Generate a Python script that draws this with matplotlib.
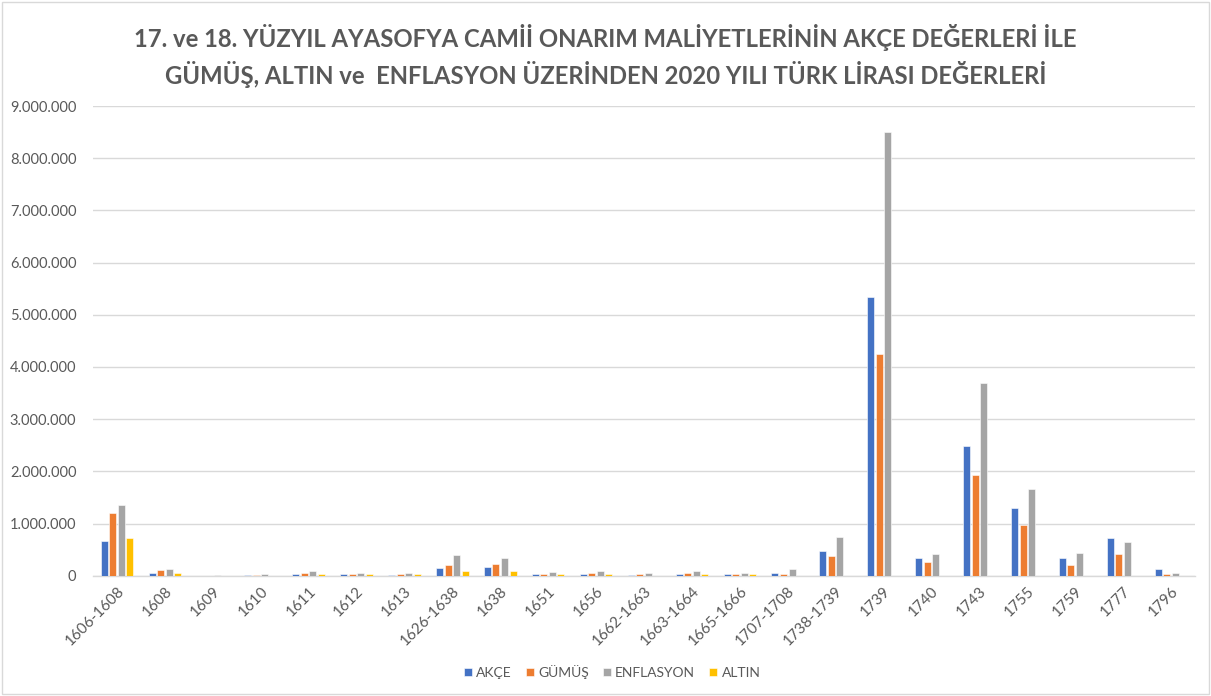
import matplotlib
matplotlib.use("Agg")
import matplotlib.pyplot as plt
import numpy as np
from matplotlib.ticker import FuncFormatter
from matplotlib.patches import Rectangle

categories = ["1606-1608", "1608", "1609", "1610", "1611", "1612", "1613", "1626-1638",
              "1638", "1651", "1656", "1662-1663", "1663-1664", "1665-1666", "1707-1708",
              "1738-1739", "1739", "1740", "1743", "1755", "1759", "1777", "1796"]
akce = [656000, 50000, 3000, 5000, 30000, 30000, 10000, 146000,
        165000, 30000, 30000, 5000, 40000, 30000, 50000,
        470000, 5340000, 340000, 2480000, 1290000, 340000, 730000, 120000]
gumus = [1210000, 108000, 3000, 5000, 50000, 40000, 30000, 197000,
         230000, 40000, 50000, 30000, 50000, 40000, 40000,
         370000, 4250000, 260000, 1930000, 975000, 200000, 410000, 30000]
enflasyon = [1350000, 120000, 5000, 30000, 90000, 50000, 50000, 390000,
             340000, 70000, 90000, 45000, 90000, 50000, 130000,
             737000, 8510000, 420000, 3700000, 1660000, 430000, 640000, 50000]
altin = [720000, 50000, 2000, 3000, 30000, 30000, 30000, 90000,
         90000, 30000, 30000, 2000, 30000, 30000, 0,
         0, 0, 0, 0, 0, 0, 0, 0]
series_names = ["AKÇE", "GÜMÜŞ", "ENFLASYON", "ALTIN"]
colors = ["#4472C4", "#ED7D31", "#A5A5A5", "#FFC000"]

title = ("17. ve 18. YÜZYIL AYASOFYA CAMİİ ONARIM MALİYETLERİNİN AKÇE DEĞERLERİ İLE\n"
         "GÜMÜŞ, ALTIN ve  ENFLASYON ÜZERİNDEN 2020 YILI TÜRK LİRASI DEĞERLERİ")

fonts = ['Lato', 'DejaVu Sans']
plt.rcParams['font.family'] = fonts

fig = plt.figure(figsize=(12.11, 6.96), dpi=100)
ax = fig.add_axes([93/1211, 1 - 575.7/696, 1102/1211, (575.7 - 106)/696])

x = np.arange(len(categories))
width = 0.146
step = 0.178
for i, (name, vals, c) in enumerate(zip(series_names, [akce, gumus, enflasyon, altin], colors)):
    ax.bar(x + (i - 1.5) * step, vals, width=width, color=c, label=name,
           edgecolor='white', linewidth=0.4, zorder=3)

ax.set_xlim(-0.5, len(categories) - 0.5)
ax.set_ylim(0, 9000000)
ax.set_yticks(np.arange(0, 9000001, 1000000))
ax.yaxis.set_major_formatter(FuncFormatter(lambda v, p: f"{int(v):,}".replace(",", ".")))
ax.grid(axis='y', color='#D9D9D9', linewidth=1, zorder=0)
for s in ['top', 'right', 'left']:
    ax.spines[s].set_visible(False)
ax.spines['bottom'].set_color('#D9D9D9')
ax.spines['bottom'].set_linewidth(1)
ax.tick_params(axis='both', length=0, colors='#595959')
ax.tick_params(axis='y', pad=12, labelsize=10.5)
ax.set_xticks(x)
ax.set_xticklabels(categories, rotation=45, ha='right', rotation_mode='anchor')
ax.tick_params(axis='x', pad=6, labelsize=11)

fig.text(0.5, 1 - 56/696, title, ha='center', va='center', fontsize=17.2, fontweight='bold',
         color='#595959', linespacing=1.45)

leg = fig.legend(loc='center', bbox_to_anchor=(612/1211, 1 - 672/696), ncol=4, frameon=False,
                 handlelength=0.6, handleheight=0.6, handletextpad=0.3, columnspacing=1.0,
                 fontsize=10)
for t in leg.get_texts():
    t.set_color('#595959')

fig.patches.append(Rectangle((2/1211, 2/696), 1207/1211, 692/696, transform=fig.transFigure,
                             fill=False, edgecolor='#D9D9D9', linewidth=1))

fig.savefig("out.png", dpi=100)
